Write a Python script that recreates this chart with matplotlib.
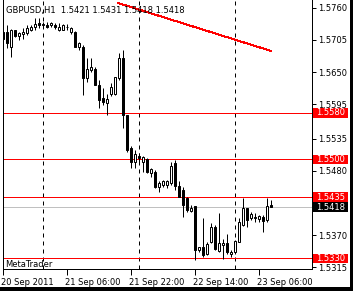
import matplotlib
matplotlib.use("Agg")
import matplotlib.pyplot as plt
import matplotlib.transforms as mtransforms
from matplotlib.patches import Rectangle
import numpy as np

plt.rcParams["font.family"] = "DejaVu Sans"

# GBPUSD H1 candles, first bar 20 Sep 2011 14:00
opens = [1.5719, 1.5719, 1.5693, 1.5722, 1.5712, 1.5715, 1.5717, 1.5723, 1.5728, 1.5734,
         1.5731, 1.5730, 1.5730, 1.5731, 1.5722, 1.5723, 1.5728, 1.5719, 1.5719, 1.5693,
         1.5693, 1.5639, 1.5653, 1.5656, 1.5628, 1.5605, 1.5596, 1.5612, 1.5613, 1.5639,
         1.5674, 1.5576, 1.5519, 1.5496, 1.5505, 1.5496, 1.5500, 1.5476, 1.5479, 1.5452,
         1.5456, 1.5456, 1.5459, 1.5493, 1.5454, 1.5447, 1.5434, 1.5411, 1.5419, 1.5344,
         1.5350, 1.5337, 1.5358, 1.5383, 1.5343, 1.5353, 1.5357, 1.5337, 1.5341, 1.5358,
         1.5387, 1.5416, 1.5399, 1.5399, 1.5397, 1.5401, 1.5396, 1.5421]
highs = [1.5734, 1.5731, 1.5724, 1.5723, 1.5719, 1.5725, 1.5731, 1.5731, 1.5742, 1.5742,
         1.5736, 1.5736, 1.5736, 1.5734, 1.5734, 1.5733, 1.5733, 1.5728, 1.5721, 1.5702,
         1.5696, 1.5674, 1.5674, 1.5659, 1.5636, 1.5622, 1.5613, 1.5631, 1.5642, 1.5682,
         1.5687, 1.5576, 1.5523, 1.5516, 1.5511, 1.5506, 1.5502, 1.5485, 1.5481, 1.5462,
         1.5465, 1.5465, 1.5496, 1.5498, 1.5462, 1.5453, 1.5436, 1.5421, 1.5419, 1.5350,
         1.5399, 1.5358, 1.5390, 1.5387, 1.5407, 1.5364, 1.5371, 1.5344, 1.5361, 1.5399,
         1.5434, 1.5416, 1.5410, 1.5407, 1.5404, 1.5405, 1.5434, 1.5431]
lows = [1.5691, 1.5691, 1.5676, 1.5711, 1.5705, 1.5706, 1.5714, 1.5721, 1.5722, 1.5725,
        1.5725, 1.5726, 1.5728, 1.5724, 1.5721, 1.5722, 1.5722, 1.5716, 1.5693, 1.5688,
        1.5610, 1.5633, 1.5650, 1.5628, 1.5588, 1.5593, 1.5576, 1.5608, 1.5610, 1.5636,
        1.5553, 1.5513, 1.5485, 1.5485, 1.5496, 1.5479, 1.5476, 1.5470, 1.5450, 1.5444,
        1.5453, 1.5451, 1.5456, 1.5447, 1.5435, 1.5401, 1.5410, 1.5410, 1.5327, 1.5341,
        1.5333, 1.5336, 1.5356, 1.5344, 1.5341, 1.5329, 1.5338, 1.5333, 1.5338, 1.5358,
        1.5386, 1.5384, 1.5396, 1.5393, 1.5393, 1.5376, 1.5392, 1.5418]
closes = [1.5706, 1.5699, 1.5722, 1.5712, 1.5717, 1.5719, 1.5725, 1.5728, 1.5733, 1.5731,
          1.5733, 1.5728, 1.5735, 1.5728, 1.5728, 1.5730, 1.5727, 1.5725, 1.5693, 1.5699,
          1.5639, 1.5656, 1.5659, 1.5628, 1.5602, 1.5599, 1.5603, 1.5625, 1.5641, 1.5674,
          1.5576, 1.5516, 1.5496, 1.5509, 1.5502, 1.5504, 1.5479, 1.5483, 1.5452, 1.5459,
          1.5462, 1.5463, 1.5489, 1.5454, 1.5436, 1.5421, 1.5413, 1.5417, 1.5344, 1.5350,
          1.5336, 1.5354, 1.5383, 1.5346, 1.5356, 1.5356, 1.5341, 1.5341, 1.5360, 1.5393,
          1.5417, 1.5396, 1.5406, 1.5401, 1.5403, 1.5394, 1.5420, 1.5418]

red_levels = [1.5580, 1.5500, 1.5435, 1.5330]
bid = 1.5418
trend_x = [28.75, 67]
trend_y = [1.57686, 1.56861]
separators = [10, 34, 58]  # midnight bars
xtick_pos = [0, 16, 32, 48, 64]
xtick_labels = ["20 Sep 2011", "21 Sep 06:00", "21 Sep 22:00", "22 Sep 14:00", "23 Sep 06:00"]
ytick_vals = [1.5760, 1.5705, 1.5650, 1.5595, 1.5535, 1.5480, 1.5370, 1.5315]
title = "GBPUSD,H1  1.5421 1.5431 1.5418 1.5418"

W, H = 353, 291
LW = 0.72  # 1 px
fig = plt.figure(figsize=(W / 100, H / 100), dpi=100)
fig.patch.set_facecolor("white")
ax = fig.add_axes([2.5 / W, 21.7 / H, 309 / W, 269.3 / H])

x = np.arange(len(opens))
o = np.array(opens); c = np.array(closes)
up = c >= o

ax.vlines(x, lows, highs, color="black", lw=LW, zorder=3)
bot = np.minimum(o, c)
hgt = np.maximum(np.abs(c - o), 0.00006)
ax.bar(x[up], hgt[up], bottom=bot[up], width=0.5, facecolor="white",
       edgecolor="black", lw=LW, zorder=4)
ax.bar(x[~up], hgt[~up], bottom=bot[~up], width=0.5, facecolor="black",
       edgecolor="black", lw=LW, zorder=4)

for s in separators:
    ax.axvline(s, color="black", lw=LW, ls=(0, (4, 4)), zorder=1)
for lv in red_levels:
    ax.axhline(lv, color="#ff0000", lw=LW, zorder=2)
ax.axhline(bid, color="#c0c0c0", lw=LW, zorder=2)
ax.plot(trend_x, trend_y, color="#ff0000", lw=LW, zorder=2, antialiased=False)

ax.set_xlim(-0.125, 77.1)
ax.set_ylim(1.53111, 1.57737)

ax.spines["top"].set_visible(False)
for sp in ax.spines.values():
    sp.set_linewidth(LW)

ax.yaxis.tick_right()
ax.set_yticks(ytick_vals)
ax.set_yticklabels([f"{v:.4f}" for v in ytick_vals])
ax.tick_params(axis="y", direction="out", length=3, width=LW, pad=1.5, labelsize=6)
ax.set_xticks(xtick_pos)
ax.set_xticklabels(xtick_labels, ha="left")
ax.tick_params(axis="x", direction="out", length=4, width=LW, pad=2, labelsize=6)
offset = mtransforms.ScaledTranslation(-2 / 100, 0, fig.dpi_scale_trans)
for lbl in ax.get_xticklabels():
    lbl.set_transform(lbl.get_transform() + offset)

# price boxes on the axis
blend = mtransforms.blended_transform_factory(ax.transAxes, ax.transData)
bx0 = (313 - 2.5) / 309
bw = 35 / 309
bh = 9.5 * (1.57737 - 1.53111) / 269.3
for lv, fc in [(v, "#ff0000") for v in red_levels] + [(bid, "black")]:
    ax.add_patch(Rectangle((bx0, lv - bh / 2), bw, bh, transform=blend,
                           facecolor=fc, edgecolor="none", clip_on=False, zorder=6))
    ax.text(bx0 + bw / 2, lv, f"{lv:.4f}", transform=blend, color="white",
            fontsize=6, ha="center", va="center", zorder=7, clip_on=False)

ax.text(4 / 309, 1 - 10.7 / 269.3, title, transform=ax.transAxes,
        fontsize=6, ha="left", va="center", color="black")
ax.text(2.5 / 309, 2 / 269.3, "MetaTrader", transform=ax.transAxes,
        fontsize=6, ha="left", va="baseline", color="black")

# window shadow at right and bottom
fig.patches.append(Rectangle((350 / W, 0), 3 / W, 1, transform=fig.transFigure,
                             facecolor="black", edgecolor="none"))
fig.patches.append(Rectangle((0, 0), 1, 4 / H, transform=fig.transFigure,
                             facecolor="black", edgecolor="none"))

fig.savefig("out.png", dpi=100)
